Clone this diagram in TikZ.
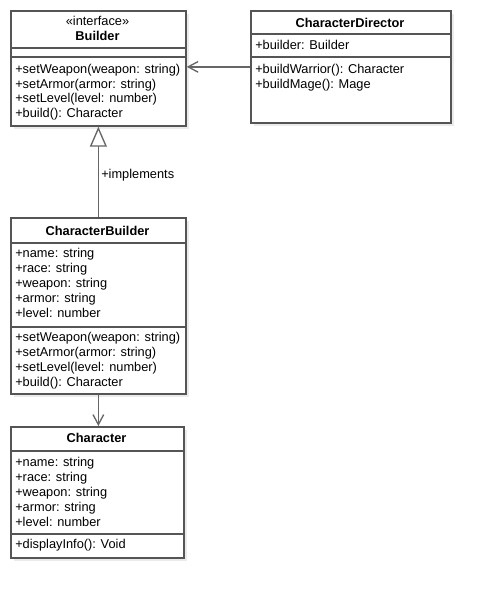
\documentclass[tikz,border=0pt]{standalone}
\usepackage{fontspec}
\setmainfont{Liberation Sans}
\usetikzlibrary{arrows.meta,shadows}
\definecolor{bordercol}{HTML}{555555}
\definecolor{linecol}{HTML}{666666}
\begin{document}
\begin{tikzpicture}[x=0.75pt,y=-0.75pt,
  box/.style={draw=bordercol, line width=1.3pt, fill=white, inner sep=0pt, anchor=north west,
    drop shadow={shadow xshift=2.25pt, shadow yshift=-2.25pt, fill=black, opacity=0.08}},
  sep/.style={draw=bordercol, line width=1.3pt},
  txt/.style={anchor=base west, inner sep=0pt, font=\fontsize{9.6pt}{11pt}\selectfont},
  ttl/.style={anchor=base, inner sep=0pt, font=\fontsize{9.6pt}{11pt}\selectfont\bfseries},
  conn/.style={draw=linecol, line width=1pt},
  stick/.style={-{Straight Barb[length=7.5pt,width=8pt,line width=1pt]}},
  tri/.style={-{Triangle[open,length=15pt,width=12.75pt,line width=1pt,fill=white]}}
]
\useasboundingbox (0,0) rectangle (491,597);
\fill[white] (0,0) rectangle (491,597);

% Builder
\node[box, minimum width=175*0.75pt, minimum height=115*0.75pt] (builder) at (10,10) {};
\draw[sep] (10,48) -- (185,48);
\draw[sep] (10,57) -- (185,57);
\node[anchor=base, inner sep=0pt, font=\fontsize{9.6pt}{11pt}\selectfont] (bster) at (97.5,25) {«interface»};
\node[ttl] (btitle) at (97.5,40) {Builder};
\node[txt] (bm1) at (15,73) {+setWeapon(weapon: string)};
\node[txt] (bm2) at (15,88) {+setArmor(armor: string)};
\node[txt] (bm3) at (15,102.5) {+setLevel(level: number)};
\node[txt] (bm4) at (15,117.5) {+build(): Character};

% CharacterDirector
\node[box, minimum width=200*0.75pt, minimum height=112*0.75pt] (director) at (250,10) {};
\draw[sep] (250,34) -- (450,34);
\draw[sep] (250,57) -- (450,57);
\node[ttl] (dtitle) at (350,27) {CharacterDirector};
\node[txt] (da1) at (255,49.5) {+builder: Builder};
\node[txt] (dm1) at (255,73) {+buildWarrior(): Character};
\node[txt] (dm2) at (255,88) {+buildMage(): Mage};

% CharacterBuilder
\node[box, minimum width=175*0.75pt, minimum height=176*0.75pt] (cbuilder) at (10,217) {};
\draw[sep] (10,243) -- (185,243);
\draw[sep] (10,327) -- (185,327);
\node[ttl] (cbtitle) at (97.5,235) {CharacterBuilder};
\node[txt] (cba1) at (15,257.5) {+name: string};
\node[txt] (cba2) at (15,272.5) {+race: string};
\node[txt] (cba3) at (15,287.5) {+weapon: string};
\node[txt] (cba4) at (15,302.5) {+armor: string};
\node[txt] (cba5) at (15,317.5) {+level: number};
\node[txt] (cbm1) at (15,341.5) {+setWeapon(weapon: string)};
\node[txt] (cbm2) at (15,356.5) {+setArmor(armor: string)};
\node[txt] (cbm3) at (15,371.5) {+setLevel(level: number)};
\node[txt] (cbm4) at (15,386.5) {+build(): Character};

% Character
\node[box, minimum width=173*0.75pt, minimum height=131*0.75pt] (character) at (10,426) {};
\draw[sep] (10,451) -- (183,451);
\draw[sep] (10,534) -- (183,534);
\node[ttl] (ctitle) at (96.5,442.5) {Character};
\node[txt] (ca1) at (15,466) {+name: string};
\node[txt] (ca2) at (15,481) {+race: string};
\node[txt] (ca3) at (15,496) {+weapon: string};
\node[txt] (ca4) at (15,511) {+armor: string};
\node[txt] (ca5) at (15,526) {+level: number};
\node[txt] (cm1) at (15,548.5) {+displayInfo(): Void};

% Connectors
\draw[conn, stick] (director.west) -- (director.west -| builder.east);
\draw[conn, tri] (cbuilder.north) -- (builder.south);
\node[anchor=base west, inner sep=0pt, font=\fontsize{9.6pt}{11pt}\selectfont] (impl) at (101,178) {+implements};
\draw[conn, stick] (cbuilder.south) -- (cbuilder.south |- character.north);
\end{tikzpicture}
\end{document}
